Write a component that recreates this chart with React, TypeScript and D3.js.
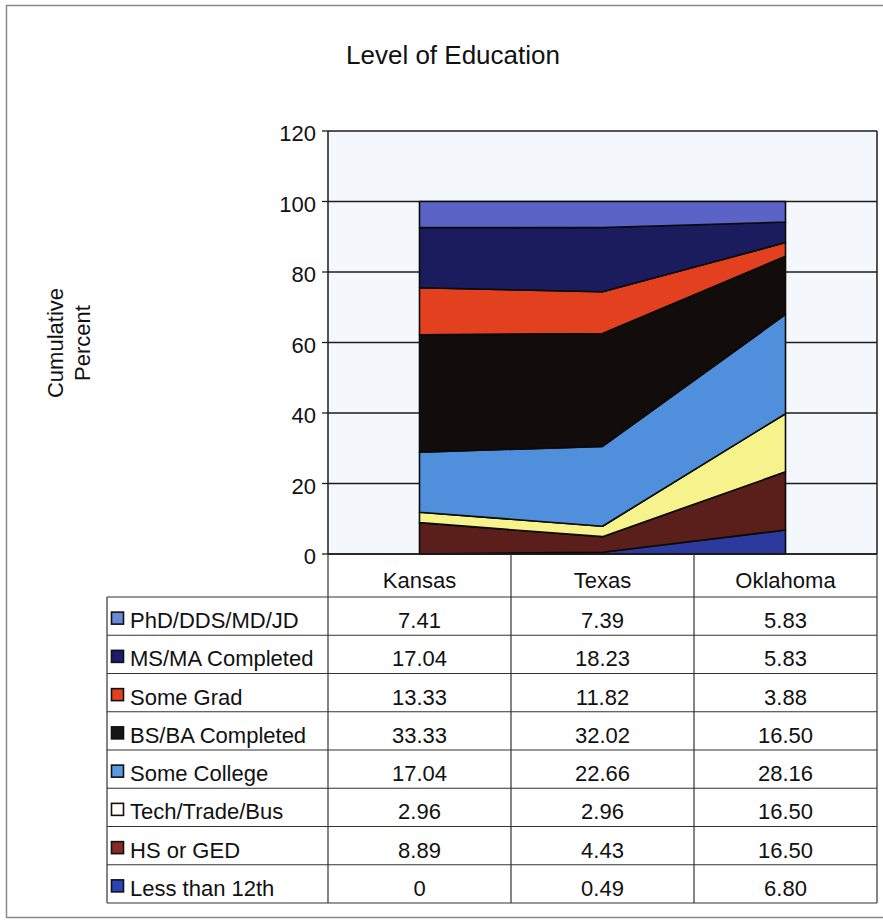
import React from 'react';
import * as d3 from 'd3';

// states along the x axis / table columns
const states = ['Kansas', 'Texas', 'Oklahoma'];

// series, listed bottom of the stack first
const seriesNames = [
  'Less than 12th',
  'HS or GED',
  'Tech/Trade/Bus',
  'Some College',
  'BS/BA Completed',
  'Some Grad',
  'MS/MA Completed',
  'PhD/DDS/MD/JD',
];

// percent per state, same order as seriesNames
const kansas = [0, 8.89, 2.96, 17.04, 33.33, 13.33, 17.04, 7.41];
const texas = [0.49, 4.43, 2.96, 22.66, 32.02, 11.82, 18.23, 7.39];
const oklahoma = [6.8, 16.5, 16.5, 28.16, 16.5, 3.88, 5.83, 5.83];

const yTicks = [0, 20, 40, 60, 80, 100, 120];

const areaColors = ['#2b3a9c', '#5a1f1a', '#f7f38c', '#4f8fdc', '#120c0a', '#e2401f', '#1b1c5e', '#5b63c6'];
const swatchColors = ['#2b44b8', '#8a2a24', '#fffff4', '#5a9ae2', '#1a1414', '#e2401f', '#1b1c6e', '#6a8ad8'];

const W = 883;
const H = 921;
const plot = { left: 328, right: 877, top: 131, bottom: 554 };
const table = { left: 107, headerBottom: 597, rowH: 38.25 };
const font = '"Liberation Sans", Arial, sans-serif';
const fs = 22;

const App: React.FC = () => {
  const rows = states.map((s, i) => {
    const vals = [kansas, texas, oklahoma][i];
    const r: Record<string, any> = { state: s };
    seriesNames.forEach((n, j) => (r[n] = vals[j]));
    return r;
  });

  const x = d3.scaleBand().domain(states).range([plot.left, plot.right]).padding(0);
  const cx = (s: string) => (x(s) as number) + x.bandwidth() / 2;
  const y = d3.scaleLinear().domain([0, 120]).range([plot.bottom, plot.top]);

  const stacked = d3.stack<any>().keys(seriesNames)(rows);
  const area = d3
    .area<any>()
    .x((d) => cx(d.data.state))
    .y0((d) => y(d[0]))
    .y1((d) => y(d[1]));

  const legendOrder = seriesNames.map((_, i) => i).reverse();
  const tableBottom = table.headerBottom + table.rowH * legendOrder.length;
  const fmt = (v: number) => (v === 0 ? '0' : v.toFixed(2));
  const colVals = [kansas, texas, oklahoma];

  return (
    <svg width={W} height={H} style={{ position: 'absolute', left: 0, top: 0, background: '#fff' }} fontFamily={font}>
      {/* outer frame (right edge runs off the page) */}
      <path d="M883,5.5 H6.5 V917.5 H883" fill="none" stroke="#8a8a8a" strokeWidth={1.5} />
      <text x={453} y={64} textAnchor="middle" fontSize={26} fill="#111">
        Level of Education
      </text>

      {/* y axis title */}
      <g transform="translate(63,343) rotate(-90)">
        <text x={0} y={0} textAnchor="middle" fontSize={fs} fill="#111">Cumulative</text>
        <text x={0} y={27} textAnchor="middle" fontSize={fs} fill="#111">Percent</text>
      </g>

      {/* plot background */}
      <rect x={plot.left} y={plot.top} width={plot.right - plot.left} height={plot.bottom - plot.top} fill="#f4f8fd" />

      {yTicks.map((t) => (
        <g key={t}>
          <line x1={plot.left} x2={plot.right} y1={y(t)} y2={y(t)} stroke="#1c1c1c" strokeWidth={1.3} />
          <line x1={plot.left - 6} x2={plot.left} y1={y(t)} y2={y(t)} stroke="#1c1c1c" strokeWidth={1.3} />
          <text x={plot.left - 12} y={y(t) + 10} textAnchor="end" fontSize={fs} fill="#111">
            {t}
          </text>
        </g>
      ))}

      {stacked.map((layer, i) => (
        <path key={layer.key} d={area(layer) || ''} fill={areaColors[i]} stroke="#0a0a0a" strokeWidth={1.6} strokeLinejoin="round" />
      ))}

      <line x1={plot.left} x2={plot.left} y1={plot.top} y2={plot.bottom} stroke="#1c1c1c" strokeWidth={1.5} />
      <line x1={plot.right} x2={plot.right} y1={plot.top} y2={plot.bottom} stroke="#1c1c1c" strokeWidth={1.5} />
      <line x1={plot.left} x2={plot.right} y1={plot.bottom} y2={plot.bottom} stroke="#1c1c1c" strokeWidth={1.5} />

      {/* data table */}
      {states.map((s) => (
        <text key={s} x={cx(s)} y={588} textAnchor="middle" fontSize={fs} fill="#111">
          {s}
        </text>
      ))}
      {[...states.map((s) => x(s) as number), plot.right].map((vx, i) => (
        <line key={i} x1={vx} x2={vx} y1={plot.bottom} y2={tableBottom} stroke="#333" strokeWidth={1.2} />
      ))}
      <line x1={table.left} x2={table.left} y1={table.headerBottom} y2={tableBottom} stroke="#333" strokeWidth={1.2} />
      {d3.range(legendOrder.length + 1).map((k) => (
        <line
          key={k}
          x1={table.left}
          x2={plot.right}
          y1={table.headerBottom + k * table.rowH}
          y2={table.headerBottom + k * table.rowH}
          stroke="#333"
          strokeWidth={1.2}
        />
      ))}
      {legendOrder.map((si, k) => {
        const top = table.headerBottom + k * table.rowH;
        const mid = top + table.rowH / 2;
        return (
          <g key={seriesNames[si]}>
            <rect x={111.5} y={mid - 4} width={12} height={12} fill={swatchColors[si]} stroke="#111" strokeWidth={1.6} />
            <text x={130} y={mid + 12} fontSize={fs} fill="#111">
              {seriesNames[si]}
            </text>
            {states.map((s, c) => (
              <text key={s} x={cx(s)} y={mid + 12} textAnchor="middle" fontSize={fs} fill="#111">
                {fmt(colVals[c][si])}
              </text>
            ))}
          </g>
        );
      })}
    </svg>
  );
};

export default App;
